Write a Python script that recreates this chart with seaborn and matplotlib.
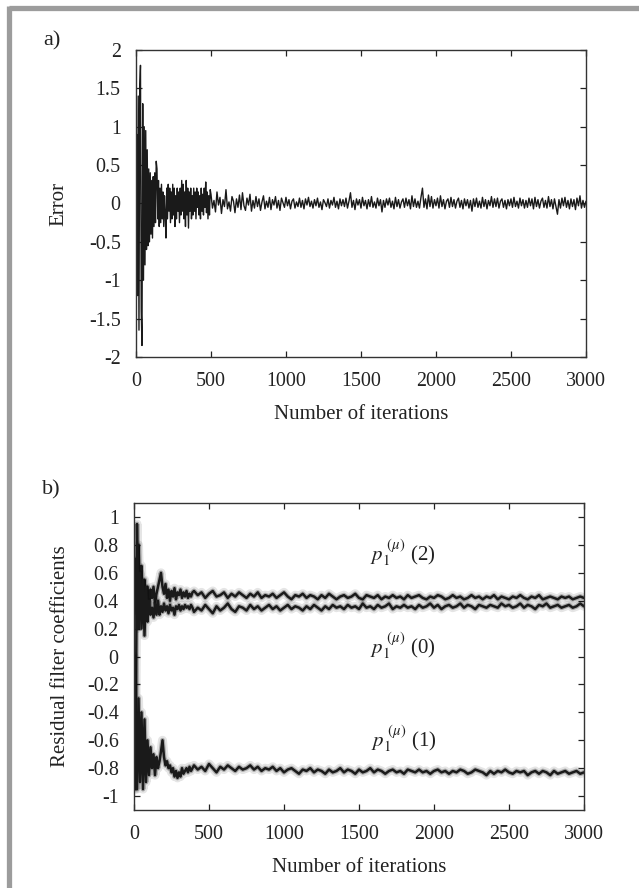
"""
Two-panel convergence figure: (a) error signal and (b) residual filter
coefficients, both against the number of iterations.
"""
import matplotlib
matplotlib.use("Agg")
import matplotlib.pyplot as plt
from matplotlib.lines import Line2D
from matplotlib.ticker import FuncFormatter, MultipleLocator
import numpy as np
import pandas as pd
import seaborn as sns

# ---- data ------------------------------------------------------------------
# error signal, iterations 0..495 (step 5)
error_early = [
    0.0, 0.9, -1.2, 1.4, -1.65, 1.5, 1.8, -1.4, -1.85, 1.3,
    -1.0, 1.0, -0.8, 0.95, -0.6, 0.7, -0.55, 0.45, -0.5, 0.4,
    -0.4, 0.3, -0.45, 0.35, -0.3, 0.4, -0.25, 0.55, 0.45, -0.2,
    0.3, -0.3, 0.2, -0.25, 0.25, -0.2, 0.15, -0.3, 0.1, -0.15,
    -0.45, 0.2, -0.2, 0.25, -0.1, 0.2, -0.25, 0.15, -0.2, 0.25,
    -0.15, 0.2, -0.3, 0.1, -0.2, 0.2, -0.1, 0.15, -0.25, 0.2,
    -0.15, 0.3, -0.1, 0.25, -0.2, 0.15, -0.3, 0.3, -0.15, 0.2,
    -0.32, 0.15, -0.1, 0.2, -0.2, 0.1, -0.15, 0.2, -0.1, 0.15,
    -0.2, 0.2, -0.05, 0.15, -0.15, 0.1, -0.2, 0.2, -0.1, 0.12,
    -0.15, 0.2, -0.05, 0.28, -0.12, 0.15, -0.2, 0.1, -0.15, 0.18,
]
# error signal, iterations 500..3000 (step 10)
error_late = [
    0.12, -0.06, 0.04, -0.11, 0.15, -0.02, 0.08, -0.13, 0.05, -0.04,
    0.18, -0.07, 0.02, -0.1, 0.09, 0.03, -0.12, 0.06, -0.05, 0.11,
    -0.08, 0.14, -0.03, -0.09, 0.07, -0.02, 0.12, -0.1, 0.04, -0.06,
    0.09, -0.04, 0.06, -0.09, 0.02, 0.1, -0.07, 0.03, -0.05, 0.08,
    -0.08, 0.05, -0.02, 0.09, -0.06, 0.04, -0.09, 0.07, 0.01, -0.05,
    0.08, -0.03, 0.05, -0.07, 0.03, 0.06, -0.06, 0.02, -0.04, 0.07,
    -0.05, 0.04, -0.07, 0.06, -0.02, 0.08, -0.04, 0.03, -0.06, 0.05,
    -0.03, 0.07, -0.05, 0.02, -0.08, 0.05, 0.01, -0.04, 0.06, -0.06,
    0.04, -0.02, 0.08, -0.05, 0.03, -0.07, 0.06, -0.03, 0.05, -0.04,
    0.07, -0.06, 0.03, 0.14, -0.05, 0.04, -0.08, 0.06, -0.02, 0.05,
    -0.06, 0.08, -0.03, 0.04, -0.07, 0.05, -0.04, 0.09, -0.05, 0.02,
    -0.06, 0.07, -0.03, 0.05, -0.11, 0.04, -0.05, 0.06, -0.02, 0.07,
    -0.05, 0.03, -0.07, 0.08, -0.04, 0.05, -0.06, 0.02, 0.06, -0.05,
    0.07, -0.03, 0.05, -0.07, 0.1, -0.04, 0.06, -0.05, 0.03, -0.06,
    0.08, 0.2, -0.05, 0.06, -0.07, 0.11, -0.04, 0.09, -0.06, 0.05,
    -0.03, 0.07, -0.06, 0.1, -0.04, 0.05, -0.07, 0.03, 0.06, -0.05,
    0.08, -0.04, 0.05, -0.06, 0.03, 0.07, -0.05, 0.04, -0.07, 0.06,
    -0.03, 0.05, -0.06, 0.04, -0.1, 0.06, -0.04, 0.07, -0.05, 0.03,
    -0.06, 0.08, -0.04, 0.05, -0.07, 0.04, -0.03, 0.09, -0.05, 0.06,
    -0.04, 0.07, -0.06, 0.03, 0.06, -0.05, 0.04, -0.07, 0.05, -0.03,
    0.06, -0.05, 0.08, -0.04, 0.03, -0.06, 0.07, -0.03, 0.05, -0.06,
    0.04, -0.05, 0.07, -0.03, 0.06, -0.07, 0.08, -0.04, 0.05, -0.06,
    0.03, 0.07, -0.05, 0.04, -0.06, 0.09, -0.04, 0.05, -0.07, 0.06,
    -0.04, -0.14, 0.05, -0.06, 0.07, -0.03, 0.08, -0.05, 0.04, -0.07,
    0.06, -0.04, 0.05, -0.08, 0.07, -0.03, 0.1, -0.06, 0.04, -0.05,
    0.03,
]

# filter coefficients, iterations 0..390 (step 10)
p2_early = [
    0.3, 0.7, 0.2, 0.8, 0.45, 0.65, 0.3, 0.55, 0.4, 0.5,
    0.35, 0.48, 0.42, 0.5, 0.38, 0.45, 0.5, 0.55, 0.6, 0.5,
    0.45, 0.52, 0.42, 0.48, 0.4, 0.47, 0.43, 0.49, 0.41, 0.46,
    0.44, 0.48, 0.42, 0.46, 0.43, 0.47, 0.42, 0.45, 0.43, 0.46,
]
p0_early = [
    0.0, -0.95, 0.95, 0.2, 0.6, 0.2, 0.55, 0.15, 0.5, 0.25,
    0.4, 0.3, 0.35, 0.28, 0.38, 0.3, 0.4, 0.3, 0.36, 0.32,
    0.38, 0.33, 0.36, 0.31, 0.37, 0.33, 0.35, 0.3, 0.36, 0.34,
    0.37, 0.33, 0.36, 0.34, 0.37, 0.35, 0.36, 0.34, 0.37, 0.35,
]
p1_early = [
    0.0, -0.35, -0.95, -0.3, -0.9, -0.4, -0.95, -0.45, -0.9, -0.6,
    -0.85, -0.65, -0.8, -0.7, -0.85, -0.72, -0.8, -0.75, -0.68, -0.6,
    -0.72, -0.78, -0.75, -0.8, -0.78, -0.83, -0.8, -0.86, -0.82, -0.87,
    -0.83, -0.86, -0.8, -0.84, -0.82, -0.8, -0.83, -0.79, -0.82, -0.8,
]
# filter coefficients, iterations 400..3000 (step 25)
p2_late = [
    0.47, 0.44, 0.46, 0.42, 0.45, 0.47, 0.43, 0.44, 0.46, 0.42,
    0.45, 0.43, 0.46, 0.44, 0.42, 0.45, 0.43, 0.46, 0.42, 0.44,
    0.43, 0.45, 0.42, 0.44, 0.46, 0.43, 0.41, 0.44, 0.43, 0.45,
    0.42, 0.44, 0.43, 0.41, 0.44, 0.42, 0.45, 0.43, 0.41, 0.43,
    0.44, 0.42, 0.43, 0.45, 0.42, 0.41, 0.44, 0.43, 0.42, 0.44,
    0.41, 0.43, 0.42, 0.44, 0.42, 0.43, 0.41, 0.44, 0.42, 0.43,
    0.44, 0.42, 0.41, 0.43, 0.42, 0.44, 0.43, 0.41, 0.42, 0.44,
    0.42, 0.43, 0.41, 0.42, 0.44, 0.42, 0.43, 0.41, 0.43, 0.42,
    0.44, 0.41, 0.43, 0.42, 0.41, 0.43, 0.42, 0.44, 0.42, 0.41,
    0.43, 0.42, 0.44, 0.41, 0.42, 0.43, 0.42, 0.41, 0.43, 0.42,
    0.43, 0.41, 0.42, 0.43, 0.42,
]
p0_late = [
    0.32, 0.35, 0.33, 0.37, 0.34, 0.31, 0.36, 0.33, 0.35, 0.38,
    0.34, 0.32, 0.36, 0.35, 0.33, 0.37, 0.34, 0.36, 0.33, 0.35,
    0.37, 0.34, 0.36, 0.33, 0.35, 0.37, 0.34, 0.36, 0.35, 0.33,
    0.36, 0.34, 0.37, 0.35, 0.33, 0.36, 0.34, 0.37, 0.35, 0.36,
    0.34, 0.37, 0.35, 0.36, 0.34, 0.38, 0.35, 0.36, 0.34, 0.37,
    0.35, 0.36, 0.38, 0.34, 0.36, 0.35, 0.37, 0.35, 0.36, 0.34,
    0.37, 0.35, 0.36, 0.38, 0.35, 0.37, 0.34, 0.36, 0.37, 0.35,
    0.36, 0.38, 0.35, 0.37, 0.36, 0.34, 0.37, 0.36, 0.35, 0.37,
    0.36, 0.35, 0.38, 0.36, 0.37, 0.35, 0.36, 0.38, 0.35, 0.37,
    0.36, 0.34, 0.37, 0.36, 0.38, 0.35, 0.36, 0.37, 0.35, 0.36,
    0.37, 0.35, 0.36, 0.38, 0.36,
]
p1_late = [
    -0.78, -0.81, -0.79, -0.82, -0.77, -0.80, -0.83, -0.79, -0.81, -0.78,
    -0.80, -0.82, -0.79, -0.81, -0.80, -0.78, -0.81, -0.79, -0.82, -0.80,
    -0.81, -0.79, -0.82, -0.80, -0.83, -0.81, -0.80, -0.82, -0.84, -0.81,
    -0.82, -0.80, -0.83, -0.81, -0.82, -0.84, -0.81, -0.83, -0.82, -0.80,
    -0.83, -0.81, -0.82, -0.84, -0.81, -0.83, -0.82, -0.80, -0.83, -0.81,
    -0.82, -0.84, -0.82, -0.81, -0.83, -0.82, -0.84, -0.81, -0.82, -0.83,
    -0.81, -0.83, -0.82, -0.84, -0.82, -0.81, -0.83, -0.82, -0.84, -0.82,
    -0.83, -0.81, -0.82, -0.84, -0.83, -0.81, -0.82, -0.83, -0.85, -0.82,
    -0.84, -0.82, -0.83, -0.81, -0.83, -0.84, -0.82, -0.83, -0.82, -0.85,
    -0.83, -0.82, -0.84, -0.82, -0.83, -0.85, -0.82, -0.84, -0.83, -0.82,
    -0.84, -0.83, -0.82, -0.84, -0.83,
]

coef_labels = [r"$p_1^{\ (\mu)}$ (2)", r"$p_1^{\ (\mu)}$ (0)", r"$p_1^{\ (\mu)}$ (1)"]
coef_label_pos = [(1790, 0.74), (1790, 0.08), (1800, -0.59)]

# ---- style -------------------------------------------------------------------
sns.set_theme(style="ticks")
plt.rcParams["font.family"] = ["Liberation Serif", "DejaVu Serif"]
plt.rcParams["mathtext.fontset"] = "stix"
plt.rcParams["axes.unicode_minus"] = False

INK = "#1a1a1a"
FRAME = "#9c9c9c"


def iteration_grid(start, stop, values):
    return np.linspace(start, stop, len(values))


def style_axes(ax, ylim, ystep, xlabel, ylabel, label_x):
    ax.set_xlim(0, 3000)
    ax.set_ylim(*ylim)
    ax.xaxis.set_major_locator(MultipleLocator(500))
    ax.yaxis.set_major_locator(MultipleLocator(ystep))
    ax.yaxis.set_major_formatter(FuncFormatter(lambda v, _: f"{round(v, 2):g}"))
    ax.tick_params(direction="in", top=True, right=True, length=4, width=0.9,
                   labelsize=14.4, pad=11, colors="#222222")
    for spine in ax.spines.values():
        spine.set_visible(True)
        spine.set_linewidth(1.0)
        spine.set_color("#333333")
    ax.set_xlabel(xlabel, fontsize=15, color="#222222", va="top")
    ax.set_ylabel(ylabel, fontsize=15, color="#222222")
    ax.xaxis.set_label_coords(0.5, -0.155)
    ax.yaxis.set_label_coords(label_x, 0.5)


fig = plt.figure(figsize=(6.39, 8.88), dpi=100)
ax_err = fig.add_axes([0.2128, 0.598, 0.7042, 0.3457])
ax_coef = fig.add_axes([0.2097, 0.0878, 0.7042, 0.3457])

# ---- (a) error ---------------------------------------------------------------
err = pd.DataFrame({
    "iteration": np.concatenate([iteration_grid(0, 495, error_early),
                                 iteration_grid(500, 3000, error_late)]),
    "error": error_early + error_late,
})
sns.lineplot(data=err, x="iteration", y="error", ax=ax_err, color=INK,
             linewidth=1.0, estimator=None, sort=False)
style_axes(ax_err, (-2, 2), 0.5, "Number of iterations", "Error", -0.151)

# ---- (b) residual filter coefficients ----------------------------------------
series = {
    "p2": (p2_early, p2_late),
    "p0": (p0_early, p0_late),
    "p1": (p1_early, p1_late),
}
for name, (early, late) in series.items():
    df = pd.DataFrame({
        "iteration": np.concatenate([iteration_grid(0, 390, early),
                                     iteration_grid(400, 3000, late)]),
        "coef": early + late,
    })
    # soft halo first, then the darker core line
    sns.lineplot(data=df, x="iteration", y="coef", ax=ax_coef, color="black",
                 linewidth=6.5, alpha=0.10, estimator=None, sort=False)
    sns.lineplot(data=df, x="iteration", y="coef", ax=ax_coef, color="black",
                 linewidth=3.5, alpha=0.25, estimator=None, sort=False)
    sns.lineplot(data=df, x="iteration", y="coef", ax=ax_coef, color=INK,
                 linewidth=1.8, estimator=None, sort=False)
style_axes(ax_coef, (-1.1, 1.1), 0.2, "Number of iterations",
           "Residual filter coefficients", -0.142)

for text, (x, y) in zip(coef_labels, coef_label_pos):
    ax_coef.text(x, y, text, fontsize=15, ha="center", va="center", color="#222222")

fig.text(0.081, 0.954, "a)", fontsize=16, ha="center", va="center", color="#222222")
fig.text(0.080, 0.448, "b)", fontsize=16, ha="center", va="center", color="#222222")

# grey frame on the top and left edges
fig.add_artist(Line2D([8.5 / 639, 1.0], [1 - 8.5 / 888] * 2, transform=fig.transFigure,
                      color=FRAME, linewidth=3.8, solid_capstyle="butt"))
fig.add_artist(Line2D([8.5 / 639] * 2, [0.0, 1 - 6 / 888], transform=fig.transFigure,
                      color=FRAME, linewidth=3.8, solid_capstyle="butt"))

fig.savefig("out.png", dpi=100)
plt.close(fig)
